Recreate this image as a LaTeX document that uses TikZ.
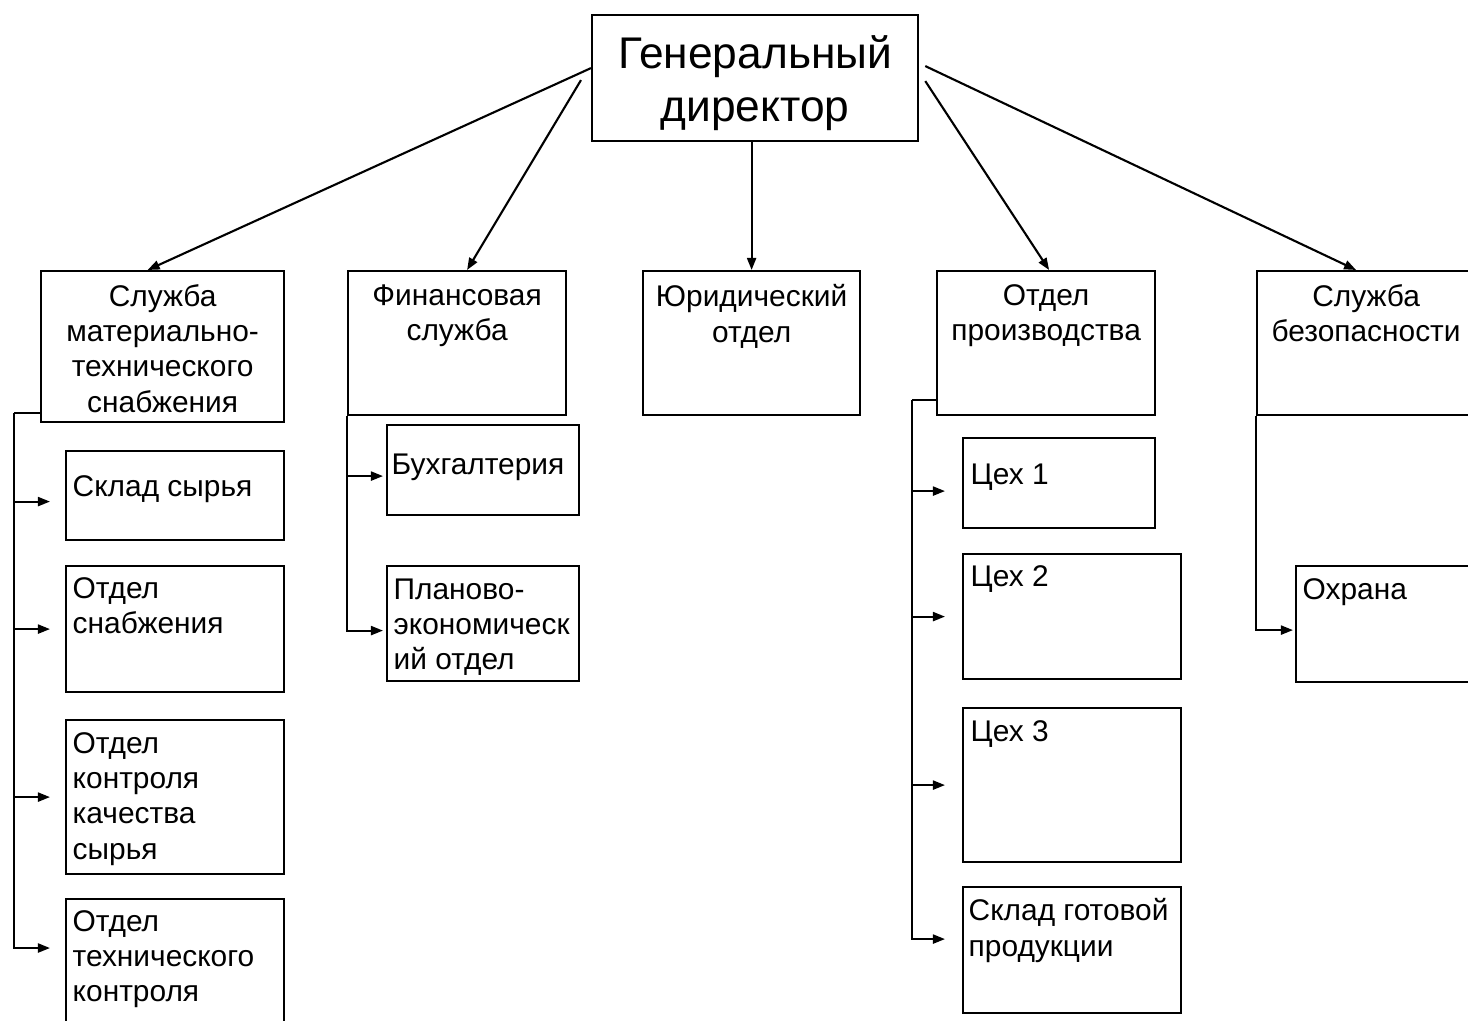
\documentclass[tikz,border=0pt]{standalone}
\usepackage{fontspec}
\setmainfont{Liberation Sans}
\usetikzlibrary{arrows.meta, positioning}

\begin{document}
\begin{tikzpicture}[
    x=0.01cm, y=-0.01cm,
    box/.style={rectangle, draw, line width=0.6pt, inner sep=0pt, anchor=north west},
    title/.style={inner sep=0pt, anchor=north, align=center, font=\fontsize{8.5}{10}\selectfont},
    item/.style={inner sep=0pt, anchor=north west, align=left, font=\fontsize{8.5}{10}\selectfont},
    arrow/.style={-{Triangle[length=0.12cm, width=0.09cm]}, line width=0.6pt}
]
\useasboundingbox (0,0) rectangle (1468,1021);
\clip (0,0) rectangle (1468,1021);

% Director
\node[box, minimum width=3.26cm, minimum height=1.26cm] (gd) at (591,14) {};
\node[title, font=\fontsize{12.6}{15}\selectfont] (gd_t) at ([yshift=-0.21cm]gd.north) {Генеральный\\директор};

% Services
\node[box, minimum width=2.43cm, minimum height=1.51cm] (snab) at (40,270) {};
\node[box, minimum width=2.18cm, minimum height=1.44cm] (fin) at (347,270) {};
\node[box, minimum width=2.17cm, minimum height=1.44cm] (jur) at (642,270) {};
\node[box, minimum width=2.18cm, minimum height=1.44cm] (prod) at (936,270) {};
\node[box, minimum width=2.18cm, minimum height=1.44cm] (bez) at (1256,270) {};

\node[title] (snab_t) at ([yshift=-0.14cm]snab.north) {Служба\\материально-\\технического\\снабжения};
\node[title] (fin_t) at ([yshift=-0.14cm]fin.north) {Финансовая\\служба};
\node[title] (jur_t) at ([yshift=-0.14cm]jur.north) {Юридический\\отдел};
\node[title] (prod_t) at ([yshift=-0.14cm]prod.north) {Отдел\\производства};
\node[title] (bez_t) at ([yshift=-0.14cm]bez.north) {Служба\\безопасности};

% Departments
\node[box, minimum width=2.18cm, minimum height=0.89cm] (sklad_s) at (65,450) {};
\node[box, minimum width=2.18cm, minimum height=1.26cm] (otd_snab) at (65,565) {};
\node[box, minimum width=2.18cm, minimum height=1.54cm] (otd_kk) at (65,719) {};
\node[box, minimum width=2.18cm, minimum height=1.42cm] (otd_tk) at (65,898) {};
\node[box, minimum width=1.92cm, minimum height=0.90cm] (buh) at (386,424) {};
\node[box, minimum width=1.92cm, minimum height=1.15cm] (plan) at (386,565) {};
\node[box, minimum width=1.92cm, minimum height=0.90cm] (ceh1) at (962,437) {};
\node[box, minimum width=2.18cm, minimum height=1.25cm] (ceh2) at (962,553) {};
\node[box, minimum width=2.18cm, minimum height=1.54cm] (ceh3) at (962,707) {};
\node[box, minimum width=2.18cm, minimum height=1.26cm] (sklad_g) at (962,886) {};
\node[box, minimum width=1.92cm, minimum height=1.16cm] (ohrana) at (1295,565) {};

\node[item] (sklad_s_t) at ([xshift=0.07cm, yshift=-0.25cm]sklad_s.north west) {Склад сырья};
\node[item] (otd_snab_t) at ([xshift=0.07cm, yshift=-0.12cm]otd_snab.north west) {Отдел\\снабжения};
\node[item] (otd_kk_t) at ([xshift=0.07cm, yshift=-0.13cm]otd_kk.north west) {Отдел\\контроля\\качества\\сырья};
\node[item] (otd_tk_t) at ([xshift=0.07cm, yshift=-0.12cm]otd_tk.north west) {Отдел\\технического\\контроля};
\node[item] (buh_t) at ([xshift=0.05cm, yshift=-0.29cm]buh.north west) {Бухгалтерия};
\node[item] (plan_t) at ([xshift=0.07cm, yshift=-0.13cm]plan.north west) {Планово-\\экономическ\\ий отдел};
\node[item] (ceh1_t) at ([xshift=0.08cm, yshift=-0.26cm]ceh1.north west) {Цех 1};
\node[item] (ceh2_t) at ([xshift=0.08cm, yshift=-0.12cm]ceh2.north west) {Цех 2};
\node[item] (ceh3_t) at ([xshift=0.08cm, yshift=-0.13cm]ceh3.north west) {Цех 3};
\node[item] (sklad_g_t) at ([xshift=0.06cm, yshift=-0.12cm]sklad_g.north west) {Склад готовой\\продукции};
\node[item] (ohrana_t) at ([xshift=0.07cm, yshift=-0.13cm]ohrana.north west) {Охрана};

% Arrows from director
\draw[arrow] ([yshift=0.1cm]gd.west) -- ([xshift=-0.15cm]snab.north);
\draw[arrow] ([xshift=-0.1cm, yshift=-0.02cm]gd.west) -- ([xshift=0.1cm]fin.north);
\draw[arrow] (gd.south -| jur.north) -- (jur.north);
\draw[arrow] ([xshift=0.06cm, yshift=-0.03cm]gd.east) -- ([xshift=0.03cm]prod.north);
\draw[arrow] ([xshift=0.06cm, yshift=0.12cm]gd.east) -- ([xshift=-0.1cm]bez.north);

% Supply branch
\coordinate (snab_bus) at ([xshift=-0.26cm, yshift=0.1cm]snab.south west);
\draw[line width=0.6pt] ([yshift=0.1cm]snab.south west) -- (snab_bus);
\draw[arrow, shorten >=0.15cm] (snab_bus) |- ([yshift=-0.06cm]sklad_s.west);
\draw[arrow, shorten >=0.15cm] (snab_bus) |- (otd_snab.west);
\draw[arrow, shorten >=0.15cm] (snab_bus) |- (otd_kk.west);
\draw[arrow, shorten >=0.15cm] (snab_bus) |- ([yshift=-0.5cm]otd_tk.north west);

% Finance branch
\draw[arrow, shorten >=0.03cm] (fin.south west) |- ([yshift=-0.06cm]buh.west);
\draw[arrow, shorten >=0.03cm] (fin.south west) |- ([yshift=-0.07cm]plan.west);

% Production branch
\coordinate (prod_bus) at ([xshift=-0.24cm, yshift=0.16cm]prod.south west);
\draw[line width=0.6pt] ([yshift=0.16cm]prod.south west) -- (prod_bus);
\draw[arrow, shorten >=0.17cm] (prod_bus) |- ([yshift=-0.08cm]ceh1.west);
\draw[arrow, shorten >=0.17cm] (prod_bus) |- (ceh2.west);
\draw[arrow, shorten >=0.17cm] (prod_bus) |- (ceh3.west);
\draw[arrow, shorten >=0.17cm] (prod_bus) |- ([yshift=0.11cm]sklad_g.west);

% Security branch
\draw[arrow, shorten >=0.02cm] (bez.south west) |- ([yshift=-0.06cm]ohrana.west);

\end{tikzpicture}
\end{document}
